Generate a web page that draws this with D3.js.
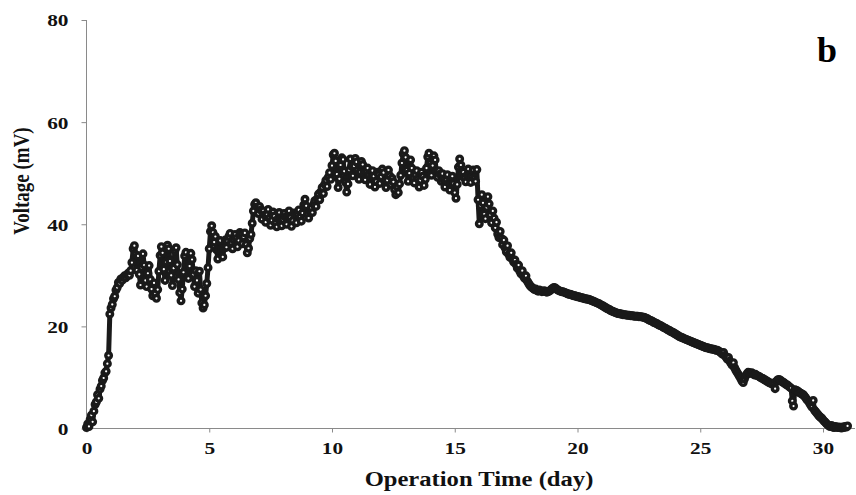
<!DOCTYPE html>
<html><head><meta charset="utf-8">
<script src="https://cdn.jsdelivr.net/npm/d3@7"></script>
<style>body{margin:0;background:#fff}svg{display:block}</style>
</head><body>
<svg id="chart" width="856" height="495"></svg>
<script>
// ---- data ----
const xTickValues = [0, 5, 10, 15, 20, 25, 30];
const yTickValues = [0, 20, 40, 60, 80];
const sampleStepDays = 0.05;   // sampling interval of the voltage log (day)

// day 0.00 – 1.80
const startupVolts = [0.2,0.9,0.4,1.8,2.6,1.3,3.4,4.7,5.2,6.6,5.9,7.7,8.3,9.4,9.9,10.9,11.2,12.7,14.3,22.4,
23.6,24.3,25.4,25.9,27.1,27.6,28.6,28.4,29.3,29.0,29.6,29.9,29.5,30.1,30.4,30.0,30.9];
// day 1.85 – 9.95
const growthVolts = [32.5,35.2,35.8,34.1,31.0,
33.8,30.2,28.1,31.5,34.2,32.0,29.0,27.8,30.4,
31.9,29.2,27.3,26.0,28.5,26.4,25.5,27.2,30.8,
33.9,35.6,34.4,31.2,29.0,32.6,35.9,35.2,32.8,30.0,28.0,31.4,34.8,35.4,32.1,
29.2,26.6,25.0,27.3,30.6,
33.8,34.5,32.0,29.4,31.8,34.3,33.1,30.2,27.8,30.9,
29.0,26.5,30.8,27.2,24.6,23.6,24.2,26.0,28.4,31.5,
35.2,38.6,39.7,38.4,36.5,37.6,
35.0,33.2,34.9,36.8,35.1,33.6,35.3,36.9,35.5,36.7,
37.6,38.2,36.4,35.2,36.9,38.0,37.2,35.6,36.8,38.4,37.9,36.2,37.5,38.3,36.0,34.4,35.3,37.2,38.0,40.2,
42.6,43.9,44.2,43.4,42.1,43.5,42.8,
41.0,42.6,41.8,40.4,41.9,42.9,41.2,39.8,40.8,42.4,41.6,40.2,39.5,41.1,42.3,41.0,39.7,40.9,
42.1,41.4,40.0,41.5,42.6,41.3,39.6,40.7,42.2,41.7,40.3,41.8,42.8,41.5,40.6,42.2,43.8,
44.9,43.6,42.0,41.2,42.5,
43.2,42.3,43.9,44.6,43.5,45.0,45.9,44.8,46.4,47.2,46.0,47.8,48.6,47.4,49.2,50.1,48.8];
// day 10.00 – 16.00
const plateauVolts = [51.5,53.6,53.9,52.4,49.8,47.2,48.9,51.6,53.0,
52.7,50.4,48.2,46.3,47.9,50.6,52.8,51.3,49.5,
51.4,52.9,52.2,50.6,48.8,50.2,52.3,51.7,
50.1,48.7,50.4,51.0,49.6,47.8,49.2,50.5,49.4,47.3,48.4,50.2,49.7,48.0,
49.3,50.8,50.1,48.4,47.2,48.6,50.6,49.5,47.8,49.0,48.3,
46.8,45.8,47.4,46.2,47.9,49.6,
52.0,53.8,54.4,53.1,50.6,48.4,50.0,52.6,51.0,49.2,
48.1,49.7,50.5,48.9,47.3,48.6,50.2,49.4,47.6,48.8,51.0,
53.2,53.9,52.0,49.6,51.5,53.4,52.6,50.3,49.2,50.5,49.8,
48.4,49.9,48.8,47.3,48.6,49.7,48.1,46.7,47.9,49.4,48.0,46.2,45.1,
47.8,51.2,52.8,51.6,49.4,
50.2,49.1,48.3,49.6,50.8,49.5,48.2,49.3,50.6,49.0,48.4,50.7,
44.8,40.1];
// day 16.05 – 31.00
const declineVolts = [43.6,45.8,44.2,42.0,41.1,43.3,45.4,44.0,41.8,40.3,42.6,
41.2,39.3,40.4,38.1,37.4,38.6,
37.2,36.0,36.9,35.4,34.6,35.8,34.1,33.5,34.4,33.2,32.6,
33.0,32.1,31.4,32.0,30.8,30.3,30.9,29.8,29.4,29.9,28.9,28.5,28.1,27.8,27.6,27.4,
27.2,27.3,27.0,26.9,27.1,27.0,26.8,26.9,27.0,26.8,26.7,26.8,26.9,27.1,27.3,27.5,27.6,27.5,27.3,
27.1,27.0,26.9,26.8,26.8,26.7,26.6,26.5,26.4,26.3,26.3,26.2,26.1,26.0,26.0,25.9,25.8,25.8,25.7,25.6,25.6,25.5,25.4,25.4,25.3,25.3,25.2,25.1,25.0,24.9,24.8,24.7,24.6,
24.5,24.4,24.2,24.1,24.0,23.8,23.7,23.5,23.4,23.3,23.1,23.0,22.9,22.8,22.7,22.6,22.5,22.5,22.4,
22.4,22.3,22.3,22.3,22.2,22.2,22.2,22.1,22.1,22.1,22.0,22.0,22.0,22.0,21.9,21.9,21.9,21.8,21.8,21.7,21.6,
21.5,21.3,21.2,21.1,21.0,20.8,20.7,20.6,20.5,20.3,20.2,20.1,20.0,19.8,19.7,19.6,19.4,19.3,19.2,19.0,18.9,18.8,
18.6,18.5,18.3,18.2,18.0,17.9,17.8,17.7,17.6,17.5,17.4,17.3,17.2,17.1,17.0,16.9,16.8,16.7,16.6,16.5,16.4,16.3,16.2,16.1,16.0,15.9,15.8,15.8,15.7,15.6,15.6,15.5,15.5,15.4,15.3,15.3,15.2,15.0,
14.8,14.6,14.9,14.3,14.0,13.6,13.9,13.2,12.8,12.4,12.9,11.9,11.4,11.0,10.6,10.2,9.8,9.3,9.0,9.7,
10.3,10.7,11.0,10.9,10.8,10.9,10.7,10.5,10.6,10.4,10.3,10.2,10.0,
9.9,9.8,9.6,9.5,9.3,9.2,9.0,8.9,8.8,8.7,8.9,7.8,9.2,9.5,9.6,9.5,9.3,9.1,9.0,8.8,8.6,8.5,8.3,8.1,7.9,5.4,4.4,7.6,7.5,7.4,7.2,7.0,6.9,6.7,6.6,6.3,6.0,5.6,
5.4,5.0,4.6,4.2,5.5,3.6,3.3,3.0,2.7,2.4,2.2,2.0,1.7,
1.4,1.2,0.9,0.7,0.5,0.4,0.6,0.3,0.2,0.4,0.3,0.2,0.3,0.2,0.1,0.3,0.2,0.4,0.3,0.5];

const xTitle = "Operation Time (day)";
const yTitle = "Voltage (mV)";
const panelLabel = "b";

// ---- build records ----
const allVolts = [...startupVolts, ...growthVolts, ...plateauVolts, ...declineVolts];
const data = allVolts.map((v, i) => ({ day: +(i * sampleStepDays).toFixed(2), volt: v }));

// ---- drawing ----
const svg = d3.select("#chart");
const serif = "'Liberation Serif','Times New Roman',serif";
const axisColor = "#8a8a8a";
const ink = "#1a1a1a";

const x = d3.scaleLinear().domain([0, 30]).range([86.5, 823]);
const y = d3.scaleLinear().domain([0, 80]).range([428.5, 20]);

function stretch(sel, k) {
  sel.each(function () {
    const w = this.getComputedTextLength();
    this.setAttribute("textLength", (w * k).toFixed(1));
    this.setAttribute("lengthAdjust", "spacingAndGlyphs");
  });
}

// y axis
const gy = svg.append("g").attr("transform", `translate(${x(0)},0)`)
  .call(d3.axisLeft(y).tickValues(yTickValues).tickSize(5).tickPadding(13).tickSizeOuter(0));
gy.select(".domain").attr("stroke", axisColor).attr("d", `M0,${y(80)}V${y(0)}`);
gy.selectAll(".tick line").attr("stroke", axisColor);
gy.selectAll(".tick text").attr("fill", "#111").attr("font-family", serif)
  .attr("font-weight", "bold").attr("font-size", 17.5).attr("dy", "0.34em").call(stretch, 1.22);

// x axis
const gx = svg.append("g").attr("transform", `translate(0,${y(0)})`)
  .call(d3.axisBottom(x).tickValues(xTickValues).tickSize(4).tickPadding(9).tickSizeOuter(0));
gx.select(".domain").attr("stroke", axisColor).attr("d", `M${x(0)},0H855`);
gx.selectAll(".tick line").attr("stroke", axisColor);
gx.selectAll(".tick text").attr("fill", "#111").attr("font-family", serif)
  .attr("font-weight", "bold").attr("font-size", 17.5).call(stretch, 1.22);

// connecting line (under the markers)
const line = d3.line().x(d => x(d.day)).y(d => y(d.volt));
svg.append("path").datum(data).attr("d", line)
  .attr("fill", "none").attr("stroke", ink).attr("stroke-width", 5)
  .attr("stroke-linejoin", "round").attr("stroke-linecap", "round");

// markers
svg.append("g").selectAll("circle").data(data).join("circle")
  .attr("cx", d => x(d.day)).attr("cy", d => y(d.volt)).attr("r", 2.8)
  .attr("fill", "#fff").attr("stroke", ink).attr("stroke-width", 3.4);

// titles
svg.append("text").attr("x", 479).attr("y", 486).attr("text-anchor", "middle")
  .attr("font-family", serif).attr("font-weight", "bold").attr("font-size", 20).attr("fill", "#111")
  .text(xTitle).call(stretch, 1.23);

svg.append("text").attr("transform", "translate(29,181) rotate(-90) scale(1,1.2)")
  .attr("text-anchor", "middle")
  .attr("font-family", serif).attr("font-weight", "bold").attr("font-size", 19).attr("fill", "#111")
  .text(yTitle);

svg.append("text").attr("x", 817).attr("y", 62)
  .attr("font-family", serif).attr("font-weight", "bold").attr("font-size", 36).attr("fill", "#000")
  .text(panelLabel);
</script>
</body></html>
